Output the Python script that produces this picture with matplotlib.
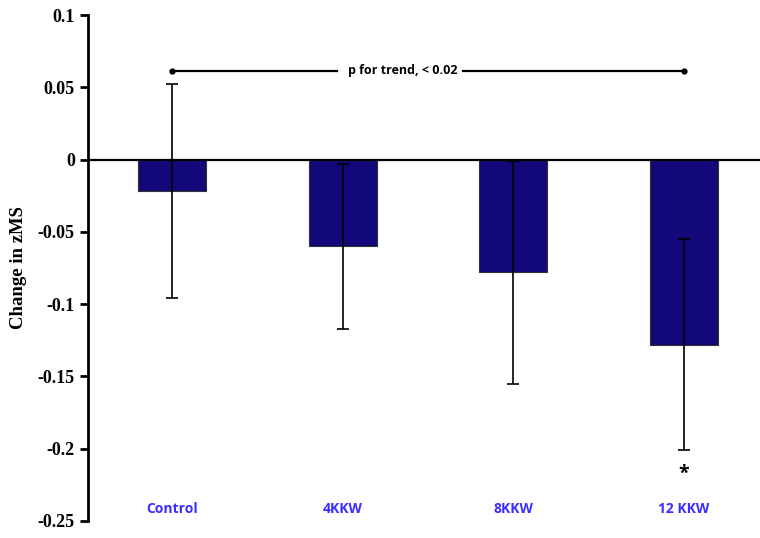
import matplotlib.pyplot as plt
import numpy as np

groups = ["Control", "4KKW", "8KKW", "12 KKW"]
change = [-0.022, -0.060, -0.078, -0.128]
err = [0.074, 0.057, 0.077, 0.073]
yticks = [0.1, 0.05, 0, -0.05, -0.1, -0.15, -0.2, -0.25]
ytick_labels = ["0.1", "0.05", "0", "-0.05", "-0.1", "-0.15", "-0.2", "-0.25"]
trend_text = "p for trend, < 0.02"
trend_y = 0.0615


def main():
    fig = plt.figure(figsize=(7.6, 5.38), dpi=100)
    ax = fig.add_axes([0.1158, 0.0316, 0.8842, 0.9404])

    x = np.arange(len(groups))
    ax.bar(x, change, width=0.40, color="#13087a", edgecolor="#333333",
           linewidth=0.8, zorder=2)
    ax.errorbar(x, change, yerr=err, fmt="none", ecolor="black",
                elinewidth=1.2, capsize=4, capthick=1.2, zorder=3)

    # zero line across the plot
    ax.axhline(0, color="black", linewidth=1.6, zorder=4)

    ax.set_xlim(-0.492, 3.445)
    ax.set_ylim(-0.25, 0.1)
    ax.set_yticks(yticks)
    ax.set_yticklabels(ytick_labels, fontfamily="Liberation Serif",
                       fontweight="bold", fontsize=13)
    ax.tick_params(axis="y", direction="out", length=6, width=2)
    ax.set_xticks([])
    for s in ["top", "right", "bottom"]:
        ax.spines[s].set_visible(False)
    ax.spines["left"].set_linewidth(2)

    ax.set_ylabel("Change in zMS", fontfamily="Liberation Serif",
                  fontweight="bold", fontsize=13.5, labelpad=8)

    for xi, g in zip(x, groups):
        ax.text(xi, -0.2417, g, ha="center", va="center", color="#3a2cff",
                fontfamily="Open Sans", fontweight="bold", fontsize=10)

    # trend line with text, gap around the label
    ax.plot([x[0], 0.967], [trend_y, trend_y], color="black", lw=1.6)
    ax.plot([1.705, x[-1]], [trend_y, trend_y], color="black", lw=1.6)
    ax.plot([x[0], x[-1]], [trend_y, trend_y], "o", color="black", ms=3.5)
    ax.text(1.35, trend_y, trend_text, ha="center", va="center",
            fontfamily="Open Sans", fontweight="bold", fontsize=9)

    ax.text(x[-1], -0.2175, "*", ha="center", va="center",
            fontfamily="Open Sans", fontweight="bold", fontsize=14)

    fig.savefig("out.png", dpi=100)


main()
